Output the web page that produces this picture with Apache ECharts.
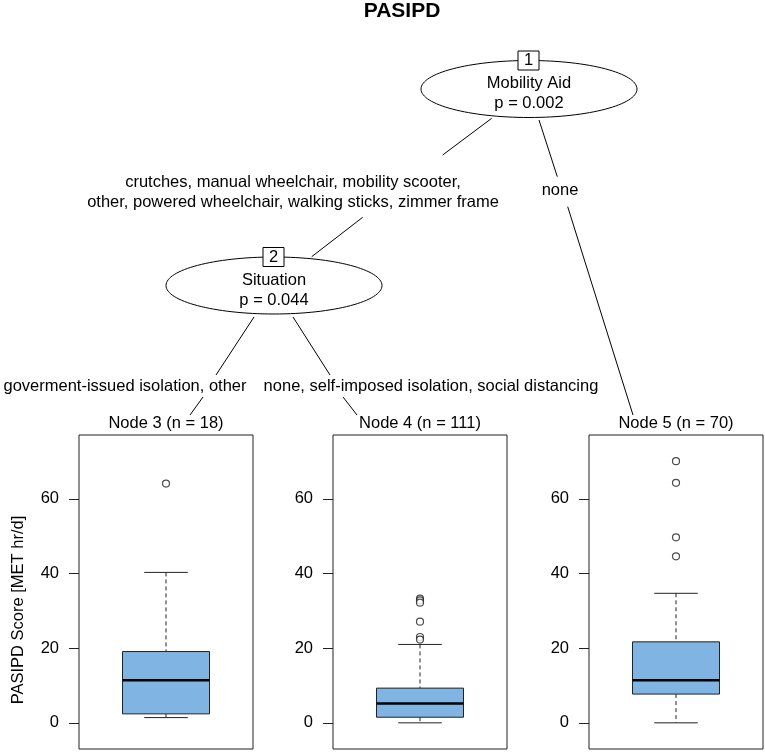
<!DOCTYPE html>
<html>
<head>
<meta charset="utf-8">
<script src="https://cdn.jsdelivr.net/npm/echarts@6/dist/echarts.min.js"></script>
<style>
  html, body { margin: 0; padding: 0; background: #fff; }
  #main { width: 765px; height: 752px; }
</style>
</head>
<body>
<div id="main"></div>
<script>
// terminal nodes
var nodeNames = ['Node 3 (n = 18)', 'Node 4 (n = 111)', 'Node 5 (n = 70)'];
// [lower whisker, Q1, median, Q3, upper whisker]
var boxStats = [
  [1.4, 2.4, 11.4, 19.1, 40.3],
  [0, 1.5, 5.2, 9.3, 21.0],
  [0, 7.7, 11.4, 21.7, 34.7]
];
var outliers = [
  [64.1],
  [33.3, 32.8, 32.2, 27.1, 23.0, 22.3],
  [70.1, 64.3, 49.7, 44.6]
];
var yTicks = [0, 20, 40, 60];
var yMin = -7.01, yMax = 77.11;

var font = '"Liberation Sans", Arial, Helvetica, sans-serif';
var ink = '#222';
var fs = 16.5;

var myChart = echarts.init(document.getElementById('main'));

var panelLeft = [79, 333, 589];

function renderBox(params, api) {
  var c = api.value(0);
  var lo = api.coord([c, api.value(1)]);
  var q1 = api.coord([c, api.value(2)]);
  var md = api.coord([c, api.value(3)]);
  var q3 = api.coord([c, api.value(4)]);
  var hi = api.coord([c, api.value(5)]);
  var band = api.size([1, 0])[0];
  var hw = band * 0.25, cw = band * 0.125;
  var x = md[0];
  var dash = { stroke: ink, lineWidth: 1, lineDash: [4, 3] };
  var solid = { stroke: ink, lineWidth: 1 };
  return {
    type: 'group',
    children: [
      { type: 'line', shape: { x1: x, y1: hi[1], x2: x, y2: q3[1] }, style: dash },
      { type: 'line', shape: { x1: x, y1: q1[1], x2: x, y2: lo[1] }, style: dash },
      { type: 'line', shape: { x1: x - cw, y1: hi[1], x2: x + cw, y2: hi[1] }, style: solid },
      { type: 'line', shape: { x1: x - cw, y1: lo[1], x2: x + cw, y2: lo[1] }, style: solid },
      { type: 'rect', shape: { x: x - hw, y: q3[1], width: 2 * hw, height: q1[1] - q3[1] },
        style: { fill: '#80B5E3', stroke: ink, lineWidth: 1 } },
      { type: 'line', shape: { x1: x - hw, y1: md[1], x2: x + hw, y2: md[1] },
        style: { stroke: '#000', lineWidth: 2.5 } }
    ]
  };
}

var grids = [], xAxes = [], yAxes = [], series = [];
nodeNames.forEach(function (name, i) {
  grids.push({
    left: panelLeft[i], top: 435, width: 174, height: 314,
    show: true, borderColor: ink, borderWidth: 1, backgroundColor: 'transparent'
  });
  xAxes.push({
    gridIndex: i, type: 'category', data: [name], position: 'top',
    axisLine: { show: false }, axisTick: { show: false },
    axisLabel: { margin: 3, fontSize: fs, color: '#000', fontFamily: font }
  });
  yAxes.push({
    gridIndex: i, type: 'value', min: yMin, max: yMax,
    splitLine: { show: false },
    axisLine: { show: false },
    axisTick: { show: true, length: 10, customValues: yTicks, lineStyle: { color: ink } },
    axisLabel: { customValues: yTicks, margin: 20, fontSize: fs, color: '#000', fontFamily: font }
  });
  series.push({
    type: 'custom', xAxisIndex: i, yAxisIndex: i,
    renderItem: renderBox,
    encode: { x: 0, y: [1, 2, 3, 4, 5] },
    data: [[0].concat(boxStats[i])],
    silent: true
  });
  series.push({
    type: 'scatter', xAxisIndex: i, yAxisIndex: i,
    symbol: 'circle', symbolSize: 7,
    itemStyle: { color: '#fff', borderColor: ink, borderWidth: 1.2 },
    data: outliers[i].map(function (v) { return [0, v]; }),
    z: 5, silent: true
  });
});

function seg(x1, y1, x2, y2) {
  return { type: 'line', shape: { x1: x1, y1: y1, x2: x2, y2: y2 }, style: { stroke: '#000', lineWidth: 1 } };
}
function txt(x, y, s, extra) {
  var st = { text: s, x: x, y: y, fill: '#000', font: fs + 'px ' + font, textAlign: 'center', textVerticalAlign: 'middle', lineHeight: 20 };
  for (var k in extra) st[k] = extra[k];
  return { type: 'text', style: st };
}
function innerNode(cx, cy, id, label, p) {
  return [
    { type: 'ellipse', shape: { cx: cx, cy: cy, rx: 108, ry: 28.5 }, style: { fill: '#fff', stroke: '#000', lineWidth: 1 } },
    { type: 'rect', shape: { x: cx - 11, y: cy - 38, width: 21, height: 19 }, style: { fill: '#fff', stroke: '#000', lineWidth: 1 } },
    txt(cx - 0.5, cy - 28.5, id),
    txt(cx, cy - 5.5, label),
    txt(cx, cy + 14.5, p)
  ];
}

var treeEls = [
  // edges, with gaps for the split labels
  seg(491.7, 118.3, 442.7, 155), seg(362.7, 217.3, 311.7, 256.7),
  seg(539, 120, 557.3, 176.7), seg(567.7, 206.7, 633, 415),
  seg(254, 317, 216, 375), seg(203, 397, 190, 415),
  seg(293, 317, 330, 375), seg(343, 397, 357, 415),
  txt(293, 192, 'crutches, manual wheelchair, mobility scooter,\nother, powered wheelchair, walking sticks, zimmer frame'),
  txt(560, 190, 'none'),
  txt(125, 386, 'goverment-issued isolation, other'),
  txt(431, 386, 'none, self-imposed isolation, social distancing'),
  txt(402, 11, 'PASIPD', { font: 'bold 21px ' + font }),
  {
    type: 'text', x: 18, y: 610, rotation: Math.PI / 2,
    style: { text: 'PASIPD Score [MET hr/d]', fill: '#000', font: fs + 'px ' + font, textAlign: 'center', textVerticalAlign: 'middle' }
  }
].concat(innerNode(529, 89, '1', 'Mobility Aid', 'p = 0.002'))
 .concat(innerNode(274, 285.5, '2', 'Situation', 'p = 0.044'));

var option = {
  animation: false,
  textStyle: { fontFamily: font },
  grid: grids,
  xAxis: xAxes,
  yAxis: yAxes,
  series: series,
  graphic: { elements: treeEls }
};

option && myChart.setOption(option);
</script>
</body>
</html>
